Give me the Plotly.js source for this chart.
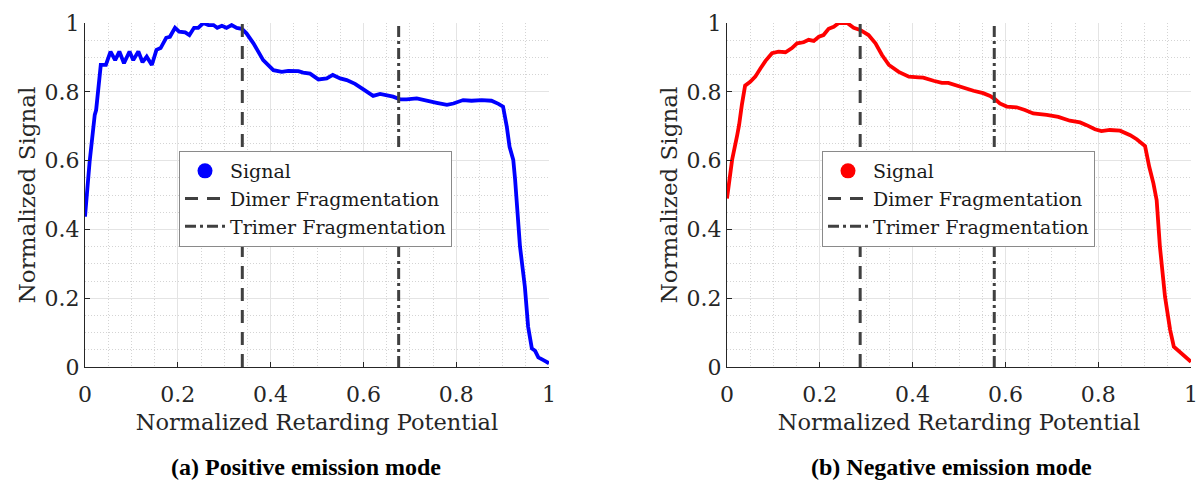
<!DOCTYPE html>
<html>
<head>
<meta charset="utf-8">
<script src="https://cdn.plot.ly/plotly-3.0.1.min.js"></script>
<style>
  html, body { margin: 0; padding: 0; background: #ffffff; }
  #chart { width: 1199px; height: 480px; }
</style>
</head>
<body>
<div id="chart"></div>
<script>
// Positive emission mode: normalized signal vs normalized retarding potential
const posPotential = [0, 0.010, 0.021, 0.024, 0.034, 0.045, 0.055, 0.065, 0.074, 0.084,
  0.096, 0.104, 0.115, 0.124, 0.133, 0.144, 0.154, 0.163, 0.175, 0.183,
  0.194, 0.203, 0.216, 0.225, 0.235, 0.244, 0.255, 0.266, 0.277, 0.285,
  0.295, 0.305, 0.316, 0.327, 0.338, 0.348, 0.363, 0.384, 0.406, 0.424,
  0.438, 0.460, 0.470, 0.485, 0.503, 0.521, 0.534, 0.550, 0.564, 0.582,
  0.600, 0.621, 0.636, 0.650, 0.664, 0.679, 0.693, 0.715, 0.736, 0.758,
  0.780, 0.794, 0.815, 0.833, 0.855, 0.876, 0.891, 0.901, 0.909, 0.915,
  0.923, 0.927, 0.9375, 0.948, 0.955, 0.963, 0.970, 0.977, 0.988, 1.0];
const posSignal = [0.437, 0.597, 0.733, 0.747, 0.878, 0.878, 0.917, 0.892, 0.917, 0.883,
  0.917, 0.892, 0.917, 0.886, 0.902, 0.878, 0.922, 0.927, 0.957, 0.960,
  0.986, 0.975, 0.973, 0.965, 0.986, 0.986, 1.0, 0.994, 0.994, 0.986,
  0.992, 0.986, 0.994, 0.986, 0.983, 0.970, 0.941, 0.892, 0.863, 0.858,
  0.861, 0.860, 0.856, 0.853, 0.836, 0.839, 0.849, 0.839, 0.834, 0.823,
  0.807, 0.788, 0.794, 0.791, 0.786, 0.778, 0.778, 0.781, 0.776, 0.768,
  0.762, 0.766, 0.776, 0.774, 0.776, 0.774, 0.765, 0.757, 0.699, 0.640,
  0.602, 0.544, 0.350, 0.233, 0.117, 0.054, 0.047, 0.028, 0.020, 0.011];

// Negative emission mode
const negPotential = [0, 0.011, 0.022, 0.026, 0.032, 0.039, 0.050, 0.061, 0.072, 0.083,
  0.097, 0.111, 0.126, 0.140, 0.151, 0.165, 0.176, 0.187, 0.198, 0.208,
  0.219, 0.230, 0.241, 0.259, 0.273, 0.287, 0.305, 0.320, 0.334, 0.349,
  0.370, 0.392, 0.413, 0.423, 0.445, 0.463, 0.477, 0.491, 0.509, 0.531,
  0.552, 0.567, 0.578, 0.588, 0.603, 0.624, 0.642, 0.660, 0.689, 0.714,
  0.739, 0.761, 0.775, 0.793, 0.807, 0.825, 0.847, 0.869, 0.883, 0.901,
  0.910, 0.919, 0.926, 0.933, 0.944, 0.955, 0.963, 0.976, 0.990, 1.0];
const negSignal = [0.490, 0.602, 0.674, 0.703, 0.762, 0.818, 0.829, 0.844, 0.868, 0.890,
  0.912, 0.917, 0.915, 0.927, 0.941, 0.944, 0.951, 0.948, 0.960, 0.965,
  0.983, 0.989, 1.0, 1.0, 0.986, 0.980, 0.965, 0.941, 0.907, 0.878,
  0.858, 0.844, 0.842, 0.841, 0.832, 0.826, 0.826, 0.820, 0.810, 0.803,
  0.796, 0.788, 0.778, 0.766, 0.757, 0.755, 0.747, 0.737, 0.733, 0.727,
  0.716, 0.711, 0.703, 0.691, 0.686, 0.689, 0.687, 0.674, 0.662, 0.642,
  0.582, 0.534, 0.485, 0.350, 0.204, 0.108, 0.059, 0.044, 0.028, 0.015];

// Fragmentation thresholds (normalized potential)
const posDimer = 0.339, posTrimer = 0.676;
const negDimer = 0.287, negTrimer = 0.576;

const seriesNames = ['Signal', 'Dimer Fragmentation', 'Trimer Fragmentation'];
const panelCaptions = ['<b>(a) Positive emission mode</b>', '<b>(b) Negative emission mode</b>'];
const xTitle = 'Normalized Retarding Potential';
const yTitle = 'Normalized Signal';

const W = 1199, H = 480;
const SERIF = 'DejaVu Serif, serif';
const CAPTION_FONT = 'Liberation Serif, Times New Roman, Times, serif';
const INK = '#262626';
const REF = '#404040';

function panelTraces(xs, ys, dimer, trimer, color, xa, ya, legendId) {
  return [
    { x: xs, y: ys, xaxis: xa, yaxis: ya, type: 'scatter', mode: 'lines',
      line: { color: color, width: 3.8 }, showlegend: false, cliponaxis: false,
      hoverinfo: 'skip' },
    // legend key for the signal, shown as a filled dot
    { x: [null], y: [null], xaxis: xa, yaxis: ya, type: 'scatter', mode: 'markers',
      marker: { color: color, size: 15 }, name: seriesNames[0], legend: legendId },
    { x: [dimer, dimer], y: [0, 1], xaxis: xa, yaxis: ya, type: 'scatter', mode: 'lines',
      line: { color: REF, width: 3, dash: '13px,9px' }, name: seriesNames[1], legend: legendId },
    { x: [trimer, trimer], y: [0, 1], xaxis: xa, yaxis: ya, type: 'scatter', mode: 'lines',
      line: { color: REF, width: 3, dash: '11px,4px,3px,4px' }, name: seriesNames[2], legend: legendId }
  ];
}

const traces = [
  ...panelTraces(posPotential, posSignal, posDimer, posTrimer, '#0000ff', 'x', 'y', 'legend'),
  ...panelTraces(negPotential, negSignal, negDimer, negTrimer, '#ff0000', 'x2', 'y2', 'legend2')
];

const minorGrid = { dtick: 0.05, tick0: 0, showgrid: true, gridcolor: '#d4d4d4',
  griddash: '1px,2px', gridwidth: 1, ticks: '' };

function xAxis(domain, anchor) {
  return {
    domain: domain, anchor: anchor, range: [0, 1], dtick: 0.2, tick0: 0,
    showline: true, linecolor: INK, linewidth: 1, mirror: false,
    ticks: 'inside', ticklen: 5, tickcolor: INK, ticklabelstandoff: 8,
    showgrid: true, gridcolor: '#e4e4e4', gridwidth: 1, zeroline: false,
    minor: minorGrid,
    tickfont: { family: SERIF, size: 22, color: INK },
    title: { text: xTitle, font: { family: SERIF, size: 22.5, color: INK }, standoff: 7 },
    automargin: false, fixedrange: true
  };
}
function yAxis(domain, anchor) {
  return {
    domain: domain, anchor: anchor, range: [0, 1], dtick: 0.2, tick0: 0,
    showline: true, linecolor: INK, linewidth: 1, mirror: false,
    ticks: 'inside', ticklen: 5, tickcolor: INK,
    showgrid: true, gridcolor: '#e4e4e4', gridwidth: 1, zeroline: false,
    minor: minorGrid,
    tickfont: { family: SERIF, size: 22, color: INK },
    title: { text: yTitle, font: { family: SERIF, size: 23, color: INK }, standoff: 2 },
    automargin: false, fixedrange: true
  };
}

const yDom = [(H - 367) / H, (H - 23) / H];

function legendBox(leftPx) {
  return {
    x: leftPx / W, y: 1 - 151 / H, xanchor: 'left', yanchor: 'top',
    bgcolor: '#ffffff', bordercolor: '#8a8a8a', borderwidth: 1,
    font: { family: SERIF, size: 19, color: '#1a1a1a' },
    tracegroupgap: 0, itemwidth: 40, itemclick: false, itemdoubleclick: false
  };
}

const layout = {
  width: W, height: H,
  margin: { l: 0, r: 0, t: 0, b: 0 },
  paper_bgcolor: '#ffffff', plot_bgcolor: '#ffffff',
  showlegend: true,
  xaxis: xAxis([85 / W, 549 / W], 'y'),
  yaxis: yAxis(yDom, 'x'),
  xaxis2: xAxis([727 / W, 1191 / W], 'y2'),
  yaxis2: yAxis(yDom, 'x2'),
  legend: legendBox(179),
  legend2: legendBox(822),
  annotations: [
    { text: panelCaptions[0], xref: 'paper', yref: 'paper', x: 306 / W, y: 1 - 467 / H,
      xanchor: 'center', yanchor: 'middle', showarrow: false,
      font: { family: CAPTION_FONT, size: 24, color: '#000000' } },
    { text: panelCaptions[1], xref: 'paper', yref: 'paper', x: 951 / W, y: 1 - 467 / H,
      xanchor: 'center', yanchor: 'middle', showarrow: false,
      font: { family: CAPTION_FONT, size: 24, color: '#000000' } }
  ]
};

Plotly.newPlot('chart', traces, layout, { staticPlot: true, displayModeBar: false });
</script>
</body>
</html>
